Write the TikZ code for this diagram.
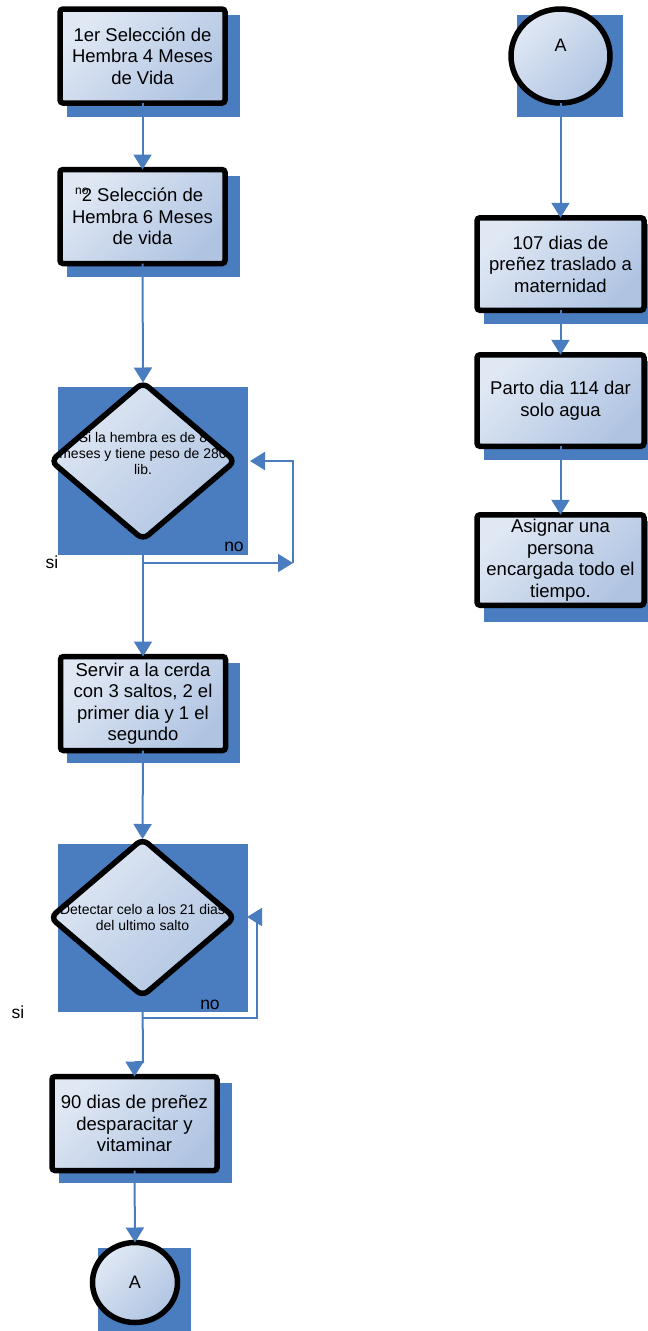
\documentclass[tikz,border=0pt]{standalone}
\usepackage{fontspec}
\setmainfont{Liberation Sans}
\usetikzlibrary{arrows.meta,shapes.geometric}
\definecolor{flowblue}{RGB}{74,124,192}
\definecolor{fillhi}{RGB}{224,232,244}
\definecolor{filllo}{RGB}{176,196,226}
\begin{document}
\begin{tikzpicture}[x=1pt,y=-1pt,
  shade/.style={fill=flowblue,draw=none},
  boxfill/.style={top color=fillhi,bottom color=filllo,shading angle=45},
  procbox/.style={rectangle,draw=black,line width=5.5pt,rounded corners=3pt,boxfill,
    minimum width=165pt,minimum height=94pt,inner sep=0pt,outer sep=0pt,
    align=center,font=\fontsize{18.5}{21.5}\selectfont},
  decision/.style={diamond,draw=black,line width=5.5pt,rounded corners=7pt,boxfill,
    minimum width=184pt,minimum height=157pt,inner sep=0pt,outer sep=0pt},
  dectext/.style={align=center,font=\fontsize{14}{16}\selectfont},
  connector/.style={ellipse,draw=black,line width=5.5pt,boxfill,inner sep=0pt,outer sep=0pt},
  bigletter/.style={font=\fontsize{18}{20}\selectfont},
  lbl/.style={font=\fontsize{17.5}{20}\selectfont,inner sep=0pt},
  conn/.style={draw=flowblue,line width=2pt,-{Triangle[width=18pt,length=15pt]}}
]
\useasboundingbox (0,0) rectangle (648,1331);

% shadows behind the shapes
\fill[shade] (67,15) rectangle (240,117);
\fill[shade] (67,176) rectangle (240,277);
\fill[shade] (58,387) rectangle (248,555);
\fill[shade] (67,663) rectangle (240,763);
\fill[shade] (58,844) rectangle (248,1012);
\fill[shade] (59,1083) rectangle (232,1183);
\fill[shade] (98,1248) rectangle (191,1336);
\fill[shade] (517,15) rectangle (623,117);
\fill[shade] (484,224) rectangle (660,324);
\fill[shade] (484,361) rectangle (660,460);
\fill[shade] (484,521) rectangle (660,622);

% left column
\node[procbox] (b1) at (142.5,56) {1er Selección de\\Hembra 4 Meses\\de Vida};
\node[procbox] (b2) at (142.5,216.5) {2 Selección de\\Hembra 6 Meses\\de vida};
\node[font=\fontsize{12}{13}\selectfont,inner sep=0pt,anchor=base west] (b2no) at (75,194) {no};
\node[decision,label={[dectext,yshift=8pt]center:{Si la hembra es de 8\\meses y tiene peso de 280\\lib.}}] (d1) at (143,461) {};
\node[procbox] (b3) at (143,703.5) {Servir a la cerda\\con 3 saltos, 2 el\\primer dia y 1 el\\segundo};
\node[decision,label={[dectext]center:{Detectar celo a los 21 dias\\del ultimo salto}}] (d2) at (142.5,917.5) {};
\node[procbox] (b4) at (134.5,1123.5) {90 dias de preñez\\desparacitar y\\vitaminar};
\node[connector,minimum width=85pt,minimum height=80pt,label={[bigletter]center:A}] (cA2) at (135,1282.5) {};

% right column
\node[connector,minimum width=99pt,minimum height=94pt,label={[bigletter,yshift=11pt]center:A}] (cA1) at (560.5,56) {};
\node[procbox,minimum width=167pt,minimum height=92.5pt] (r1) at (560.5,264) {107 dias de\\preñez traslado a\\maternidad};
\node[procbox,minimum width=167pt,minimum height=91.5pt] (r2) at (560.5,400.5) {Parto dia 114 dar\\solo agua};
\node[procbox,minimum width=167pt,minimum height=90.5pt] (r3) at (560.5,560) {Asignar una\\persona\\encargada todo el\\tiempo.};

% branch labels
\node[lbl] (no1) at (234,547) {no};
\node[lbl] (si1) at (52,562) {si};
\node[lbl] (no2) at (210,1005) {no};
\node[lbl] (si2) at (18,1012) {si};

% loop and joint points
\coordinate (l1a) at (143,563);
\coordinate (l1b) at (293,563);
\coordinate (l1c) at (250,461);
\coordinate (l2a) at (143,1018);
\coordinate (l2b) at (257,1018);
\coordinate (l2c) at (247,917);
\coordinate (j2) at (143,1062);

% connectors
\draw[conn] (b1.south) -- (b2.north);
\draw[conn] (b2.south) -- (d1.north);
\draw[conn] (d1.south) -- (b3.north);
\draw[conn] (l1a) -- (l1b);
\draw[conn] (l1b) |- (l1c);
\draw[conn] (b3.south) -- (d2.north);
\draw[conn] (d2.south) -- (j2) -| (b4.north);
\draw[conn] (l2a) -- (l2b) |- (l2c);
\draw[conn] (b4.south) -- (cA2.north);
\draw[conn] (cA1.south) -- (r1.north);
\draw[conn] (r1.south) -- (r2.north);
\draw[conn] (r2.south) -- (r3.north);
\end{tikzpicture}
\end{document}
